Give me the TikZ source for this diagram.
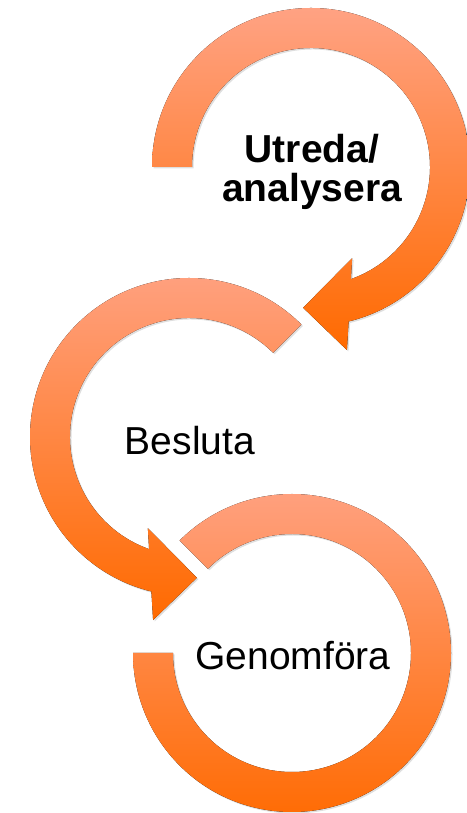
\documentclass[tikz,border=0pt]{standalone}
\usepackage{fontspec}
\setmainfont{Liberation Sans}
\usetikzlibrary{calc,shadows}
\definecolor{ringtop}{RGB}{255,162,131}
\definecolor{ringbot}{RGB}{255,106,0}
\begin{document}
\begin{tikzpicture}[x=1pt,y=1pt,line join=miter,
  ring/.style={draw=none,top color=ringtop,bottom color=ringbot,
    drop shadow={opacity=0.25,shadow xshift=1.5pt,shadow yshift=-1.5pt}},
  lbl/.style={inner sep=0pt,align=center,font=\fontsize{39}{40}\selectfont}]
\useasboundingbox (0,0) rectangle (466,813);
\coordinate (c1) at (311,646);
\coordinate (c2) at (189,376);
\coordinate (c3) at (292,160);
% utreda: clockwise, head at the bottom
\fill[ring] ($(c1)+(180:159)$) arc[start angle=180,end angle=-76.3,radius=159]
  -- ($(c1)+(-78.9:186.5)$) -- ($(c1)+(-93.2:141)$) -- ($(c1)+(-65.7:100)$)
  -- ($(c1)+(-70.4:119)$) arc[start angle=-70.4,end angle=180,radius=119] -- cycle;
% besluta: counterclockwise, mirrored head
\fill[ring] ($(c2)+(45:159)$) arc[start angle=45,end angle=256.3,radius=159]
  -- ($(c2)+(258.9:186.5)$) -- ($(c2)+(273.2:141)$) -- ($(c2)+(245.7:100)$)
  -- ($(c2)+(250.4:119)$) arc[start angle=250.4,end angle=45,radius=119] -- cycle;
% genomfora: no head
\fill[ring] ($(c3)+(135:159)$) arc[start angle=135,end angle=-180,radius=159]
  -- ($(c3)+(180:119)$) arc[start angle=-180,end angle=135,radius=119] -- cycle;
\node[lbl,font=\fontsize{39}{39}\selectfont\bfseries,anchor=base] (utreda) at (312,611) {Utreda/\\analysera};
\node[lbl,anchor=base] (besluta) at (190,358) {Besluta};
\node[lbl,anchor=base] (genomfora) at (293,143) {Genomföra};
\end{tikzpicture}
\end{document}
